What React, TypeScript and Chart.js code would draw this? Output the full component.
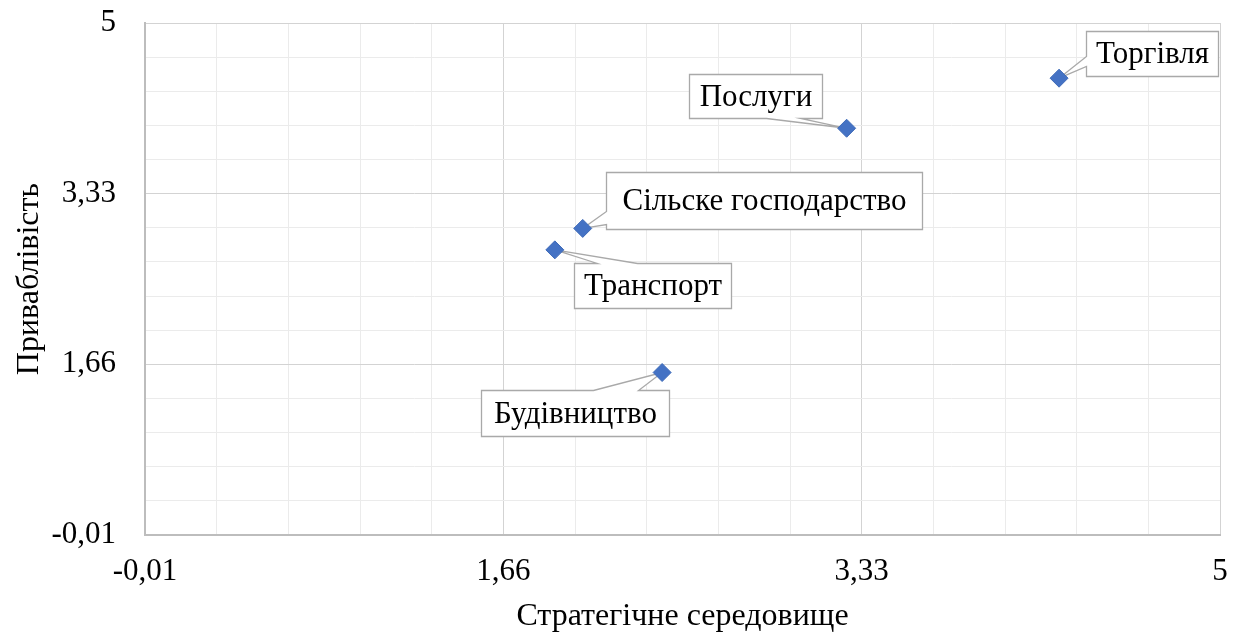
import React, { useEffect, useRef } from 'react';
import { Chart, registerables } from 'chart.js';

Chart.register(...registerables);

// ---- data ----
const categories = ['Торгівля', 'Послуги', 'Сільске господарство', 'Транспорт', 'Будівництво'];
const strategicEnvironment = [4.25, 3.26, 2.03, 1.9, 2.4]; // x
const attractiveness = [4.46, 3.97, 2.99, 2.78, 1.58]; // y

const xTickValues = [-0.01, 1.66, 3.33, 5];
const xTickLabels = ['-0,01', '1,66', '3,33', '5'];
const yTickValues = [-0.01, 1.66, 3.33, 5];
const yTickLabels = ['-0,01', '1,66', '3,33', '5'];
const MINOR_DIVISIONS = 5;

const xTitle = 'Стратегічне середовище';
const yTitle = 'Приваблівість';

// ---- callout layout (pixel offsets from each point) ----
type Callout = { dx: number; dy: number; w: number; h: number; side: 'top' | 'bottom' | 'left' | 'right'; a: number; b: number };
const calloutLayout: Callout[] = [
  { dx: 27, dy: -47, w: 132, h: 45, side: 'left', a: 25, b: 35 },
  { dx: -158, dy: -54, w: 133, h: 44, side: 'bottom', a: 77, b: 111 },
  { dx: 23, dy: -56, w: 316, h: 57, side: 'left', a: 39, b: 52 },
  { dx: 19, dy: 13, w: 157, h: 45, side: 'top', a: 23, b: 63 },
  { dx: -181, dy: 17, w: 188, h: 46, side: 'top', a: 112, b: 157 },
];

const FONT = '"Liberation Serif", "Times New Roman", serif';
const MAJOR_GRID = '#d3d3d3';
const MINOR_GRID = '#ebebeb';
const AXIS_LINE = '#bdbdbd';

function buildTicks(values: number[]) {
  const t: { value: number }[] = [];
  for (let i = 0; i < values.length - 1; i++) {
    for (let k = 0; k < MINOR_DIVISIONS; k++) {
      t.push({ value: values[i] + ((values[i + 1] - values[i]) * k) / MINOR_DIVISIONS });
    }
  }
  t.push({ value: values[values.length - 1] });
  return t;
}

const calloutPlugin = {
  id: 'callouts',
  beforeDatasetsDraw(chart: any) {
    const ctx: CanvasRenderingContext2D = chart.ctx;
    const meta = chart.getDatasetMeta(0);
    meta.data.forEach((pt: any, i: number) => {
      const L = calloutLayout[i];
      const px = pt.x;
      const py = pt.y;
      const x0 = Math.round(px + L.dx) + 0.5;
      const y0 = Math.round(py + L.dy) + 0.5;
      const x1 = x0 + L.w;
      const y1 = y0 + L.h;
      ctx.save();
      ctx.beginPath();
      ctx.moveTo(x0, y0);
      if (L.side === 'top') {
        ctx.lineTo(x0 + L.a, y0);
        ctx.lineTo(px, py);
        ctx.lineTo(x0 + L.b, y0);
      }
      ctx.lineTo(x1, y0);
      if (L.side === 'right') {
        ctx.lineTo(x1, y0 + L.a);
        ctx.lineTo(px, py);
        ctx.lineTo(x1, y0 + L.b);
      }
      ctx.lineTo(x1, y1);
      if (L.side === 'bottom') {
        ctx.lineTo(x0 + L.b, y1);
        ctx.lineTo(px, py);
        ctx.lineTo(x0 + L.a, y1);
      }
      ctx.lineTo(x0, y1);
      if (L.side === 'left') {
        ctx.lineTo(x0, y0 + L.b);
        ctx.lineTo(px, py);
        ctx.lineTo(x0, y0 + L.a);
      }
      ctx.closePath();
      ctx.fillStyle = '#ffffff';
      ctx.fill();
      ctx.strokeStyle = '#a9a9a9';
      ctx.lineWidth = 1.3;
      ctx.stroke();
      ctx.fillStyle = '#000000';
      ctx.font = `31px ${FONT}`;
      ctx.textAlign = 'center';
      ctx.textBaseline = 'middle';
      ctx.fillText(categories[i], (x0 + x1) / 2, (y0 + y1) / 2 + 1);
      ctx.restore();
    });
  },
};

export default function App() {
  const canvasRef = useRef<HTMLCanvasElement | null>(null);

  useEffect(() => {
    if (!canvasRef.current) return;
    const points = strategicEnvironment.map((x, i) => ({ x, y: attractiveness[i] }));
    const chart = new Chart(canvasRef.current, {
      type: 'scatter',
      data: {
        datasets: [
          {
            label: 'Галузі',
            data: points,
            pointStyle: 'rectRot',
            pointRadius: 9,
            pointHoverRadius: 9,
            backgroundColor: '#4472c4',
            borderColor: '#3f6bb8',
            borderWidth: 1,
          },
        ],
      },
      options: {
        animation: false,
        responsive: true,
        maintainAspectRatio: false,
        layout: { padding: { top: 23, right: 19, bottom: 0, left: 0 } },
        plugins: {
          legend: { display: false },
          tooltip: { enabled: false },
        },
        scales: {
          x: {
            type: 'linear',
            min: xTickValues[0],
            max: xTickValues[xTickValues.length - 1],
            afterBuildTicks: (scale: any) => {
              scale.ticks = buildTicks(xTickValues);
            },
            afterFit: (scale: any) => {
              scale.height = 102;
              scale.paddingLeft = 0;
              scale.paddingRight = 0;
            },
            ticks: {
              autoSkip: false,
              maxRotation: 0,
              minRotation: 0,
              padding: 18,
              color: '#000',
              font: { family: FONT, size: 31 },
              callback: (_v: any, index: number) =>
                index % MINOR_DIVISIONS === 0 ? xTickLabels[index / MINOR_DIVISIONS] : '',
            },
            grid: {
              drawTicks: false,
              color: (c: any) => (c.index % MINOR_DIVISIONS === 0 ? MAJOR_GRID : MINOR_GRID),
              lineWidth: 1,
            },
            border: { display: true, color: AXIS_LINE, width: 2 },
            title: {
              display: true,
              text: xTitle,
              color: '#000',
              font: { family: FONT, size: 32 },
              padding: { top: 0, bottom: 1 },
            },
          },
          y: {
            type: 'linear',
            min: yTickValues[0],
            max: yTickValues[yTickValues.length - 1],
            afterBuildTicks: (scale: any) => {
              scale.ticks = buildTicks(yTickValues);
            },
            afterFit: (scale: any) => {
              scale.width = 145;
              scale.paddingTop = 0;
              scale.paddingBottom = 0;
            },
            ticks: {
              autoSkip: false,
              padding: 29,
              color: '#000',
              font: { family: FONT, size: 31 },
              callback: (_v: any, index: number) =>
                index % MINOR_DIVISIONS === 0 ? yTickLabels[index / MINOR_DIVISIONS] : '',
            },
            grid: {
              drawTicks: false,
              color: (c: any) => (c.index % MINOR_DIVISIONS === 0 ? MAJOR_GRID : MINOR_GRID),
              lineWidth: 1,
            },
            border: { display: true, color: AXIS_LINE, width: 2 },
            title: {
              display: true,
              text: yTitle,
              color: '#000',
              font: { family: FONT, size: 32 },
              padding: { top: 10, bottom: 0 },
            },
          },
        },
      },
      plugins: [calloutPlugin],
    });
    return () => chart.destroy();
  }, []);

  return (
    <div style={{ position: 'fixed', left: 0, top: 0, width: 1239, height: 637, background: '#fff' }}>
      <canvas ref={canvasRef} />
    </div>
  );
}
